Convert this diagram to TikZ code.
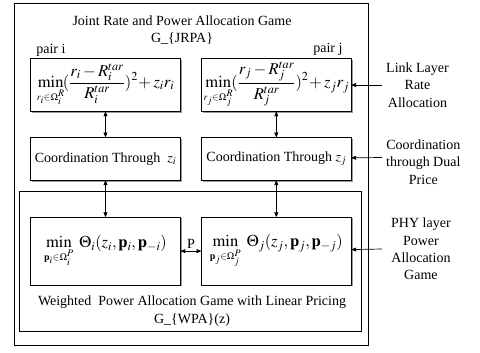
\documentclass[tikz,border=0pt]{standalone}
\usepackage{mathptmx}
\usepackage{fontspec}
\setmainfont{Liberation Serif}
\usetikzlibrary{positioning}
\usetikzlibrary{arrows,shadows}
\tikzset{
	>=stealth',
	gamebox/.style={
		rectangle,
		draw=black, line width=0.8pt,
		fill=white,
		drop shadow={shadow xshift=1.3pt, shadow yshift=-1.3pt, fill=gray!80, opacity=1},
		inner sep=0pt,
		minimum width=150pt,
		text centered},
	mathbox/.style={gamebox, font=\fontsize{16.5}{19}\selectfont},
	framebox/.style={
		rectangle,
		draw=black, line width=0.8pt,
		fill=white,
		drop shadow={shadow xshift=1.3pt, shadow yshift=-1.3pt, fill=gray!80, opacity=1},
		inner sep=0pt},
	line/.style={draw, line width=0.7pt, <->},
	feed/.style={draw, line width=0.7pt, ->},
	sidelabel/.style={anchor=west, inner sep=0pt, align=center},
}
\newcommand{\rateterm}[1]{$\displaystyle\mathop{\mathrm{min}}\limits_{\scriptscriptstyle r_#1\in\Omega_#1^R}\!(\frac{r_#1-R_#1^{tar}}{R_#1^{tar}})^2\!+z_#1r_#1$}
\newcommand{\powerterm}[1]{$\displaystyle\mathop{\mathrm{min}}\limits_{\scriptscriptstyle \mathbf{p}_#1\in\Omega_#1^P}\;\Theta_#1(z_#1,\mathbf{p}_#1,\mathbf{p}_{-#1})$}

\begin{document}
\begin{tikzpicture}
			[x=1pt, y=-1pt, node distance=25pt,
			font=\fontsize{14}{17.3}\selectfont]
			\useasboundingbox (0,0) rectangle (480,353);
			% outer game and inner power game
			\node[framebox, minimum width=354pt, minimum height=342pt] (jrpa) at (191,174) {};
			\node[framebox, minimum width=342pt, minimum height=140pt] (wpa) at (190,261) {};
			\node[align=center] (jrpatitle) at (182,30) {Joint Rate and Power Allocation Game\\G\_\{JRPA\}};
			\node[align=center] (wpatitle) at (192,311) {Weighted~ Power Allocation Game with Linear Pricing\\G\_\{WPA\}(z)};
			
			% pair i
			\node[mathbox, minimum height=53pt] (minI) at (105.5,85) {\rateterm{i}};
			\node[gamebox, minimum height=43pt, below=25pt of minI] (coordI) {Coordination Through~ $z_i$};
			\node[mathbox, minimum height=68pt, below=36pt of coordI] (thetaI) {\powerterm{i}};
			\node[above right=1pt and 6pt of minI.north west, anchor=south west, inner sep=0pt] (pairI) {pair i};
			
			% pair j
			\node[mathbox, minimum height=53pt, right=20pt of minI] (minJ) {\rateterm{j}};
			\node[gamebox, minimum height=43pt, below=25pt of minJ] (coordJ) {Coordination Through $z_j$};
			\node[mathbox, minimum height=68pt, below=36pt of coordJ] (thetaJ) {\powerterm{j}};
			\node[above left=2pt and 9pt of minJ.north east, anchor=south east, inner sep=0pt] (pairJ) {pair j};
			
			\draw[line] (minI) -- (coordI);
			\draw[line] (coordI) -- (thetaI);
			\draw[line] (minJ) -- (coordJ);
			\draw[line] (coordJ) -- (thetaJ);
			\draw[line] (thetaI) -- node[above, inner sep=2pt] (price) {P} (thetaJ);
			
			% layers on the right
			\coordinate (linkin) at (382,85);
			\coordinate (dualin) at (382,157.5);
			\coordinate (phyin) at (382,249);
			\draw[feed] (linkin) -- (minJ);
			\draw[feed] (dualin) -- (coordJ);
			\draw[feed] (phyin) -- (thetaJ);
			\node[sidelabel] (link) at (386,85) {Link Layer\\Rate\\Allocation};
			\node[sidelabel] (dual) at (386,162) {Coordination\\through Dual\\Price};
			\node[sidelabel] (phy) at (391,249) {PHY layer\\Power\\Allocation\\Game};
			
			\end{tikzpicture}
\end{document}
